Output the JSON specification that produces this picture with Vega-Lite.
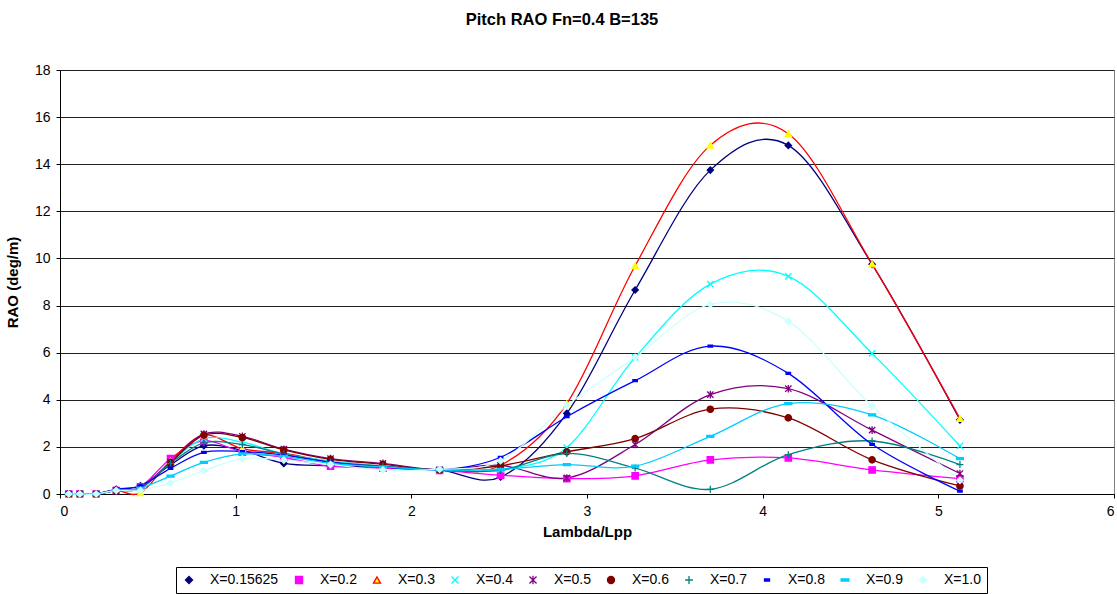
{
  "$schema": "https://vega.github.io/schema/vega-lite/v6.json",
  "width": 1054,
  "height": 424,
  "autosize": {"type": "none"},
  "padding": {"left": 60, "top": 70, "right": 3, "bottom": 100},
  "background": "white",
  "title": {"text": "Pitch RAO Fn=0.4 B=135", "font": "Liberation Sans", "fontSize": 16.5, "fontWeight": "bold", "color": "black", "anchor": "middle", "dx": -25, "offset": 35},
  "config": {
    "view": {"stroke": "#808080", "strokeWidth": 1},
    "axis": {"labelFont": "Liberation Sans", "labelFontSize": 14, "labelColor": "black", "titleFont": "Liberation Sans", "titleFontSize": 15, "titleFontWeight": "bold", "titleColor": "black", "domainColor": "black", "tickColor": "black", "tickSize": 4},
    "legend": {"labelFont": "Liberation Sans", "labelFontSize": 14, "labelColor": "black"}
  },
  "data": {"values": [
    {"s":"X=0.15625","l":0.05,"v":0},{"s":"X=0.15625","l":0.113,"v":0},{"s":"X=0.15625","l":0.206,"v":0},{"s":"X=0.15625","l":0.32,"v":0.2},{"s":"X=0.15625","l":0.458,"v":0.35},{"s":"X=0.15625","l":0.629,"v":1.23},{"s":"X=0.15625","l":0.819,"v":2.05},{"s":"X=0.15625","l":1.038,"v":1.85},{"s":"X=0.15625","l":1.274,"v":1.3},{"s":"X=0.15625","l":1.54,"v":1.2},{"s":"X=0.15625","l":1.838,"v":1.12},{"s":"X=0.15625","l":2.161,"v":1.02},{"s":"X=0.15625","l":2.508,"v":0.72},{"s":"X=0.15625","l":2.885,"v":3.42},{"s":"X=0.15625","l":3.274,"v":8.66},{"s":"X=0.15625","l":3.702,"v":13.75},{"s":"X=0.15625","l":4.146,"v":14.8},{"s":"X=0.15625","l":4.623,"v":9.75},{"s":"X=0.15625","l":5.123,"v":3.15},
    {"s":"X=0.2","l":0.05,"v":0},{"s":"X=0.2","l":0.113,"v":0},{"s":"X=0.2","l":0.206,"v":0},{"s":"X=0.2","l":0.32,"v":0.15},{"s":"X=0.2","l":0.458,"v":0.3},{"s":"X=0.2","l":0.629,"v":1.5},{"s":"X=0.2","l":0.819,"v":2.26},{"s":"X=0.2","l":1.038,"v":1.78},{"s":"X=0.2","l":1.274,"v":1.55},{"s":"X=0.2","l":1.54,"v":1.18},{"s":"X=0.2","l":1.838,"v":1.1},{"s":"X=0.2","l":2.161,"v":1.0},{"s":"X=0.2","l":2.508,"v":0.8},{"s":"X=0.2","l":2.885,"v":0.65},{"s":"X=0.2","l":3.274,"v":0.77},{"s":"X=0.2","l":3.702,"v":1.45},{"s":"X=0.2","l":4.146,"v":1.53},{"s":"X=0.2","l":4.623,"v":1.02},{"s":"X=0.2","l":5.123,"v":0.65},
    {"s":"X=0.3","l":0.05,"v":0},{"s":"X=0.3","l":0.113,"v":0},{"s":"X=0.3","l":0.206,"v":0},{"s":"X=0.3","l":0.32,"v":0.15},{"s":"X=0.3","l":0.458,"v":0.05},{"s":"X=0.3","l":0.629,"v":1.4},{"s":"X=0.3","l":0.819,"v":2.5},{"s":"X=0.3","l":1.038,"v":1.92},{"s":"X=0.3","l":1.274,"v":1.72},{"s":"X=0.3","l":1.54,"v":1.38},{"s":"X=0.3","l":1.838,"v":1.18},{"s":"X=0.3","l":2.161,"v":1.02},{"s":"X=0.3","l":2.508,"v":1.22},{"s":"X=0.3","l":2.885,"v":3.84},{"s":"X=0.3","l":3.274,"v":9.69},{"s":"X=0.3","l":3.702,"v":14.8},{"s":"X=0.3","l":4.146,"v":15.29},{"s":"X=0.3","l":4.623,"v":9.76},{"s":"X=0.3","l":5.123,"v":3.2},
    {"s":"X=0.4","l":0.05,"v":0},{"s":"X=0.4","l":0.113,"v":0},{"s":"X=0.4","l":0.206,"v":0},{"s":"X=0.4","l":0.32,"v":0.15},{"s":"X=0.4","l":0.458,"v":0.25},{"s":"X=0.4","l":0.629,"v":1.35},{"s":"X=0.4","l":0.819,"v":2.35},{"s":"X=0.4","l":1.038,"v":2.2},{"s":"X=0.4","l":1.274,"v":1.7},{"s":"X=0.4","l":1.54,"v":1.4},{"s":"X=0.4","l":1.838,"v":1.18},{"s":"X=0.4","l":2.161,"v":1.02},{"s":"X=0.4","l":2.508,"v":1.05},{"s":"X=0.4","l":2.885,"v":1.97},{"s":"X=0.4","l":3.274,"v":5.8},{"s":"X=0.4","l":3.702,"v":8.91},{"s":"X=0.4","l":4.146,"v":9.24},{"s":"X=0.4","l":4.623,"v":5.97},{"s":"X=0.4","l":5.123,"v":2.04},
    {"s":"X=0.5","l":0.05,"v":0},{"s":"X=0.5","l":0.113,"v":0},{"s":"X=0.5","l":0.206,"v":0},{"s":"X=0.5","l":0.32,"v":0.15},{"s":"X=0.5","l":0.458,"v":0.25},{"s":"X=0.5","l":0.629,"v":1.35},{"s":"X=0.5","l":0.819,"v":2.55},{"s":"X=0.5","l":1.038,"v":2.45},{"s":"X=0.5","l":1.274,"v":1.9},{"s":"X=0.5","l":1.54,"v":1.5},{"s":"X=0.5","l":1.838,"v":1.3},{"s":"X=0.5","l":2.161,"v":1.02},{"s":"X=0.5","l":2.508,"v":1.22},{"s":"X=0.5","l":2.885,"v":0.68},{"s":"X=0.5","l":3.274,"v":2.1},{"s":"X=0.5","l":3.702,"v":4.22},{"s":"X=0.5","l":4.146,"v":4.47},{"s":"X=0.5","l":4.623,"v":2.71},{"s":"X=0.5","l":5.123,"v":0.87},
    {"s":"X=0.6","l":0.05,"v":0},{"s":"X=0.6","l":0.113,"v":0},{"s":"X=0.6","l":0.206,"v":0},{"s":"X=0.6","l":0.32,"v":0.15},{"s":"X=0.6","l":0.458,"v":0.25},{"s":"X=0.6","l":0.629,"v":1.33},{"s":"X=0.6","l":0.819,"v":2.5},{"s":"X=0.6","l":1.038,"v":2.4},{"s":"X=0.6","l":1.274,"v":1.87},{"s":"X=0.6","l":1.54,"v":1.47},{"s":"X=0.6","l":1.838,"v":1.26},{"s":"X=0.6","l":2.161,"v":1.02},{"s":"X=0.6","l":2.508,"v":1.2},{"s":"X=0.6","l":2.885,"v":1.79},{"s":"X=0.6","l":3.274,"v":2.35},{"s":"X=0.6","l":3.702,"v":3.6},{"s":"X=0.6","l":4.146,"v":3.23},{"s":"X=0.6","l":4.623,"v":1.45},{"s":"X=0.6","l":5.123,"v":0.34},
    {"s":"X=0.7","l":0.05,"v":0},{"s":"X=0.7","l":0.113,"v":0},{"s":"X=0.7","l":0.206,"v":0},{"s":"X=0.7","l":0.32,"v":0.15},{"s":"X=0.7","l":0.458,"v":0.25},{"s":"X=0.7","l":0.629,"v":1.3},{"s":"X=0.7","l":0.819,"v":2.17},{"s":"X=0.7","l":1.038,"v":2.1},{"s":"X=0.7","l":1.274,"v":1.7},{"s":"X=0.7","l":1.54,"v":1.35},{"s":"X=0.7","l":1.838,"v":1.18},{"s":"X=0.7","l":2.161,"v":1.02},{"s":"X=0.7","l":2.508,"v":1.0},{"s":"X=0.7","l":2.885,"v":1.72},{"s":"X=0.7","l":3.274,"v":1.1},{"s":"X=0.7","l":3.702,"v":0.2},{"s":"X=0.7","l":4.146,"v":1.67},{"s":"X=0.7","l":4.623,"v":2.25},{"s":"X=0.7","l":5.123,"v":1.25},
    {"s":"X=0.8","l":0.05,"v":0},{"s":"X=0.8","l":0.113,"v":0},{"s":"X=0.8","l":0.206,"v":0},{"s":"X=0.8","l":0.32,"v":0.2},{"s":"X=0.8","l":0.458,"v":0.35},{"s":"X=0.8","l":0.629,"v":1.09},{"s":"X=0.8","l":0.819,"v":1.77},{"s":"X=0.8","l":1.038,"v":1.8},{"s":"X=0.8","l":1.274,"v":1.65},{"s":"X=0.8","l":1.54,"v":1.35},{"s":"X=0.8","l":1.838,"v":1.15},{"s":"X=0.8","l":2.161,"v":1.02},{"s":"X=0.8","l":2.508,"v":1.56},{"s":"X=0.8","l":2.885,"v":3.28},{"s":"X=0.8","l":3.274,"v":4.81},{"s":"X=0.8","l":3.702,"v":6.28},{"s":"X=0.8","l":4.146,"v":5.12},{"s":"X=0.8","l":4.623,"v":2.11},{"s":"X=0.8","l":5.123,"v":0.12},
    {"s":"X=0.9","l":0.05,"v":0},{"s":"X=0.9","l":0.113,"v":0},{"s":"X=0.9","l":0.206,"v":0},{"s":"X=0.9","l":0.32,"v":0.15},{"s":"X=0.9","l":0.458,"v":0.25},{"s":"X=0.9","l":0.629,"v":0.76},{"s":"X=0.9","l":0.819,"v":1.34},{"s":"X=0.9","l":1.038,"v":1.7},{"s":"X=0.9","l":1.274,"v":1.6},{"s":"X=0.9","l":1.54,"v":1.3},{"s":"X=0.9","l":1.838,"v":1.15},{"s":"X=0.9","l":2.161,"v":1.02},{"s":"X=0.9","l":2.508,"v":1.05},{"s":"X=0.9","l":2.885,"v":1.25},{"s":"X=0.9","l":3.274,"v":1.18},{"s":"X=0.9","l":3.702,"v":2.45},{"s":"X=0.9","l":4.146,"v":3.84},{"s":"X=0.9","l":4.623,"v":3.36},{"s":"X=0.9","l":5.123,"v":1.5},
    {"s":"X=1.0","l":0.05,"v":0},{"s":"X=1.0","l":0.113,"v":0},{"s":"X=1.0","l":0.206,"v":0},{"s":"X=1.0","l":0.32,"v":0.15},{"s":"X=1.0","l":0.458,"v":0.15},{"s":"X=1.0","l":0.629,"v":0.48},{"s":"X=1.0","l":0.819,"v":0.99},{"s":"X=1.0","l":1.038,"v":1.5},{"s":"X=1.0","l":1.274,"v":1.44},{"s":"X=1.0","l":1.54,"v":1.25},{"s":"X=1.0","l":1.838,"v":1.02},{"s":"X=1.0","l":2.161,"v":1.05},{"s":"X=1.0","l":2.508,"v":1.41},{"s":"X=1.0","l":2.885,"v":3.76},{"s":"X=1.0","l":3.274,"v":5.8},{"s":"X=1.0","l":3.702,"v":8.05},{"s":"X=1.0","l":4.146,"v":7.33},{"s":"X=1.0","l":4.623,"v":3.73},{"s":"X=1.0","l":5.123,"v":0.58}
  ]},
  "encoding": {
    "x": {"field": "l", "type": "quantitative", "title": "Lambda/Lpp",
      "scale": {"domain": [0, 6], "nice": false},
      "axis": {"values": [0,1,2,3,4,5,6], "grid": false, "labelPadding": 6, "titlePadding": 6}},
    "y": {"field": "v", "type": "quantitative", "title": "RAO (deg/m)",
      "scale": {"domain": [0, 18], "nice": false},
      "axis": {"values": [0,2,4,6,8,10,12,14,16,18], "grid": true, "gridColor": "#202020", "gridWidth": 1, "labelPadding": 6, "titlePadding": 14}}
  },
  "layer": [
    {
      "mark": {"type": "line", "interpolate": "cardinal", "strokeWidth": 1.3},
      "encoding": {
        "color": {"field": "s", "type": "nominal",
          "scale": {"domain": ["X=0.15625","X=0.2","X=0.3","X=0.4","X=0.5","X=0.6","X=0.7","X=0.8","X=0.9","X=1.0"],
            "range": ["#000080","#FF00FF","#FF0000","#00FFFF","#800080","#800000","#008080","#0000FF","#00CCFF","#CCFFFF"]},
          "legend": {"orient": "none", "legendX": 116, "legendY": 497, "direction": "horizontal", "columns": 10, "title": null, "strokeColor": "black", "padding": 6, "labelOffset": 14, "columnPadding": 13, "symbolSize": 50, "symbolStrokeWidth": 1.3}}
      }
    },
    {
      "mark": {"type": "point", "size": 40, "strokeWidth": 1.3, "opacity": 1, "fillOpacity": 1, "strokeOpacity": 1},
      "encoding": {
        "stroke": {"field": "s", "type": "nominal", "legend": null,
          "scale": {"domain": ["X=0.15625","X=0.2","X=0.3","X=0.4","X=0.5","X=0.6","X=0.7","X=0.8","X=0.9","X=1.0"],
            "range": ["#000080","#FF00FF","#FFFF00","#00FFFF","#800080","#800000","#008080","#0000FF","#00CCFF","#CCFFFF"]}},
        "fill": {"field": "s", "type": "nominal", "legend": null,
          "scale": {"domain": ["X=0.15625","X=0.2","X=0.3","X=0.4","X=0.5","X=0.6","X=0.7","X=0.8","X=0.9","X=1.0"],
            "range": ["#000080","#FF00FF","#FFFF00","#00FFFF","#800080","#800000","#008080","#0000FF","#00CCFF","#CCFFFF"]}},
        "shape": {"field": "s", "type": "nominal", "legend": null,
          "scale": {"domain": ["X=0.15625","X=0.2","X=0.3","X=0.4","X=0.5","X=0.6","X=0.7","X=0.8","X=0.9","X=1.0"],
            "range": ["diamond","square","triangle-up","M-1,-1L1,1M-1,1L1,-1","M-1,-1L1,1M-1,1L1,-1M0,-1.2L0,1.2","circle","M-1.1,0L1.1,0M0,-1.1L0,1.1","M-0.7,-0.3L0.7,-0.3L0.7,0.3L-0.7,0.3Z","M-1.1,-0.3L1.1,-0.3L1.1,0.3L-1.1,0.3Z","diamond"]}}
      }
    }
  ]
}
